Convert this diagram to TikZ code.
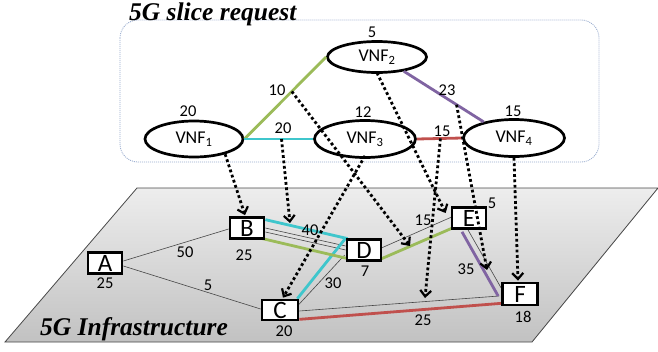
\documentclass[tikz,border=0pt]{standalone}
\usepackage{fontspec}
\setmainfont{Carlito}
\newfontfamily\titlefont{Liberation Serif}
\usetikzlibrary{arrows.meta,shapes.geometric,calc}
\definecolor{lgreen}{HTML}{9BBB59}
\definecolor{lcyan}{HTML}{3FC6CC}
\definecolor{lpurple}{HTML}{8064A2}
\definecolor{lred}{HTML}{C0504D}
\definecolor{boxline}{RGB}{150,170,205}
\definecolor{thinline}{RGB}{70,70,70}
\tikzset{
  vnf/.style={ellipse, draw=black, line width=2.7pt, fill=white, inner sep=0pt,
    font=\fontsize{18}{18}\selectfont},
  pnode/.style={rectangle, draw=black, line width=2.7pt, fill=white, inner sep=0pt,
    minimum width=34pt, minimum height=21pt, font=\fontsize{25}{25}\selectfont},
  num/.style={font=\fontsize{16.5}{16.5}\selectfont, inner sep=0pt},
  titletext/.style={font=\titlefont\bfseries\itshape\fontsize{25.5}{26}\selectfont, inner sep=0pt, anchor=base west},
  vlink/.style={line width=2.8pt},
  plink/.style={line width=2.8pt},
  thin/.style={draw=thinline, line width=0.6pt},
  mapping/.style={line width=2.8pt, dash pattern=on 2.8pt off 2.6pt,
    -{Straight Barb[length=6pt,width=11pt,line width=2.2pt]}},
}
\begin{document}
\begin{tikzpicture}[x=1pt,y=-1pt]
\useasboundingbox (0,0) rectangle (658,351);
% slice request box
\draw[boxline, line width=0.8pt, dash pattern=on 1pt off 1pt, rounded corners=18pt] (120,20) rectangle (599,162);
\node[titletext] (t1) at (129,20.5) {5G slice request};
% infrastructure plane
\shade[top color=gray!14, bottom color=gray!48] (137,188) -- (658,188) -- (532,342) -- (5,342) -- cycle;
\draw[thinline, line width=0.8pt] (137,188) -- (658,188) -- (532,342) -- (5,342) -- cycle;
\node[titletext] (t2) at (40,335) {5G Infrastructure};
% physical nodes (placed first for anchors)
\node[pnode] (A) at (105,263) {A};
\node[pnode] (B) at (247,228) {B};
\node[pnode, minimum width=36pt, minimum height=20pt] (C) at (280,310) {C};
\node[pnode] (D) at (364,250) {D};
\node[pnode] (E) at (469,218) {E};
\node[pnode, minimum width=35pt, minimum height=22pt] (F) at (520,294) {F};
% thin physical links
\draw[thin] ($(A.east)+(0,-2)$) -- ($(B.west)+(0,1)$);
\draw[thin] ($(A.east)+(0,3)$) -- ($(C.west)+(0,-1)$);
\draw[thin] (B.east) -- ($(D.west)+(0,-4)$);
\draw[thin] ($(B.east)+(0,4)$) -- (D.west);
\draw[thin] ($(D.west)+(-1,5)$) -- ($(C.east)+(-1,-5)$);
\draw[thin] ($(C.east)+(0,1)$) -- ($(F.west)+(-2,2)$);
\draw[thin] ($(D.east)+(-1,-2)$) -- ($(E.west)+(1,-1)$);
\draw[thin] ($(E.south)+(-1,0)$) -- ($(F.west)+(0,-6)$);
% coloured physical paths
\draw[plink, lcyan] ($(B.north east)+(0,3.5)$) -- (D.north west) -- ($(C.north east)+(-2,0)$);
\draw[plink, lgreen] ($(B.south east)+(-4,-1.5)$) -- ($(D.south west)+(1,-3.5)$) -- ($(D.south east)+(0,-3.5)$) -- ($(E.south west)+(1,-1.5)$);
\draw[plink, lpurple] ($(E.south)+(-7,2)$) -- ($(F.west)+(-3,2)$);
\draw[plink, lred] ($(C.south east)+(0,-2)$) -- ($(F.south west)+(0,-3)$);
% redraw boxes on top
\node[pnode] at (A) {A};
\node[pnode] at (B) {B};
\node[pnode, minimum width=36pt, minimum height=20pt] at (C) {C};
\node[pnode] at (D) {D};
\node[pnode] at (E) {E};
\node[pnode, minimum width=35pt, minimum height=22pt] at (F) {F};
% physical labels
\node[num] (lA) at (105,283) {25};
\node[num] (lB) at (244,255) {25};
\node[num] (lC) at (284,331) {20};
\node[num] (lD) at (365,271) {7};
\node[num] (lE) at (492,203) {5};
\node[num] (lF) at (523,317) {18};
\node[num] (lAB) at (185,252) {50};
\node[num] (lAC) at (208,285) {5};
\node[num] (lBD) at (310,230) {40};
\node[num] (lDC) at (333,283) {30};
\node[num] (lDE) at (423,220) {15};
\node[num] (lEF) at (466,269) {35};
\node[num] (lCF) at (423,320) {25};
% VNFs
\node[vnf, minimum width=98pt, minimum height=36pt] (v1) at (194,139) {VNF\textsubscript{1}};
\node[vnf, minimum width=99pt, minimum height=31pt] (v2) at (377,57) {VNF\textsubscript{2}};
\node[vnf, minimum width=101pt, minimum height=37pt] (v3) at (365,139) {VNF\textsubscript{3}};
\node[vnf, minimum width=101pt, minimum height=37pt] (v4) at (514,138) {VNF\textsubscript{4}};
% virtual links
\draw[vlink, lgreen] (v1.east) -- (v2.west) coordinate[pos=0.58] (m12);
\draw[vlink, lcyan] (v1.east) -- (v3.west) coordinate[pos=0.54] (m13);
\draw[vlink, lpurple] (v2.-28) -- (v4.152) coordinate[pos=0.66] (m24);
\draw[vlink, lred] (v3.east) -- (v4.west) coordinate[pos=0.52] (m34);
% VNF labels
\node[num] (n1) at (188,111) {20};
\node[num] (n2) at (372,32) {5};
\node[num] (n3) at (363,112) {12};
\node[num] (n4) at (513,111) {15};
\node[num] (n12) at (277,90) {10};
\node[num] (n13) at (283,128) {20};
\node[num] (n24) at (447,90) {23};
\node[num] (n34) at (442,131) {15};
% mapping targets
\coordinate (tBD) at (290,223);
\coordinate (tDE) at (410,246);
\coordinate (tEF) at (487,270);
\coordinate (tCF) at (425,298);
% mappings
\draw[mapping] (v1.-26) -- ($(B.north)+(-2,-1)$);
\draw[mapping] (m13) -- (tBD);
\draw[mapping] (m12) -- (tDE);
\draw[mapping] ($(v3.south)+(0,-3)$) -- ($(C.north)+(3,-1)$);
\draw[mapping] ($(v2.south)+(0,-1)$) -- ($(E.west)+(-5,-5)$);
\draw[mapping] (m24) -- (tEF);
\draw[mapping] (m34) -- (tCF);
\draw[mapping] (v4.south) -- ($(F.north)+(-2,-1)$);
\end{tikzpicture}
\end{document}
